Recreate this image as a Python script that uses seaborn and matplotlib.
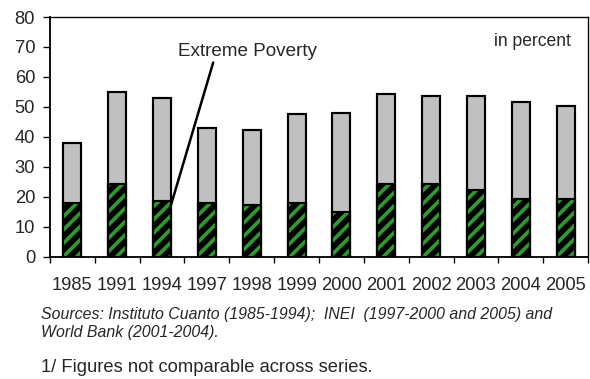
import matplotlib
matplotlib.use("Agg")
import matplotlib.pyplot as plt
import seaborn as sns
import pandas as pd

# Poverty rates in Peru (percent of population)
years = ["1985", "1991", "1994", "1997", "1998", "1999",
         "2000", "2001", "2002", "2003", "2004", "2005"]
total_poverty = [38.1, 55.0, 53.0, 42.8, 42.2, 47.5,
                 48.1, 54.2, 53.6, 53.6, 51.5, 50.2]
extreme_poverty = [17.9, 24.1, 18.7, 17.9, 17.4, 18.0,
                   14.8, 24.2, 24.1, 22.1, 19.2, 19.2]
y_ticks = [0, 10, 20, 30, 40, 50, 60, 70, 80]

df = pd.DataFrame({"year": years, "total": total_poverty, "extreme": extreme_poverty})

sns.set_style("white")
plt.rcParams["font.family"] = ["Liberation Sans", "DejaVu Sans"]
plt.rcParams["hatch.linewidth"] = 2.2

DPI = 120
fig = plt.figure(figsize=(590 / DPI, 379 / DPI), dpi=DPI)
ax = fig.add_axes([50 / 590, 1 - 256.7 / 379, 538 / 590, (256.7 - 17) / 379])

green = "#2f9a2f"
bar_w = 0.4

# total poverty (grey)
sns.barplot(data=df, x="year", y="total", ax=ax, color="#c0c0c0", saturation=1,
            width=bar_w, edgecolor="black", linewidth=1.3, zorder=2)
# extreme poverty: black with green diagonal stripes
sns.barplot(data=df, x="year", y="extreme", ax=ax, color="black", saturation=1,
            width=bar_w, edgecolor=green, linewidth=0, hatch="///", zorder=3)
# outline over the striped part
sns.barplot(data=df, x="year", y="extreme", ax=ax, fill=False, saturation=1,
            width=bar_w, edgecolor="black", linewidth=1.3, zorder=4)

n = len(years)
ax.set_xlim(-0.5, n - 0.5)
ax.set_ylim(0, 80)
ax.set_yticks(y_ticks)
ax.set_xlabel("")
ax.set_ylabel("")

# tick marks between categories, labels centred under bars
ax.set_xticks([i - 0.5 for i in range(n + 1)])
ax.set_xticklabels([])
ax.set_xticks(range(n), minor=True)
ax.set_xticklabels(years, minor=True)
ax.tick_params(axis="x", which="major", direction="out", length=3.5, width=0.8,
               color="black", bottom=True)
ax.tick_params(axis="x", which="minor", length=0, pad=12, labelsize=11)
ax.tick_params(axis="y", direction="out", length=4, width=0.8, color="black",
               left=True, pad=5, labelsize=11)

for side in ["left", "right", "top", "bottom"]:
    ax.spines[side].set_visible(True)
    ax.spines[side].set_color("black")
    ax.spines[side].set_linewidth(0.8)
ax.spines["left"].set_linewidth(1.1)
ax.spines["bottom"].set_linewidth(1.1)

ax.text(3.9, 68.5, "Extreme Poverty", ha="center", va="center", fontsize=11.3)
ax.annotate("", xy=(2.18, 16.3), xytext=(3.14, 64.8),
            arrowprops=dict(arrowstyle="-", lw=1.5, color="black",
                            shrinkA=0, shrinkB=0), zorder=5)
ax.text(0.968, 0.896, "in percent", transform=ax.transAxes, ha="right",
        va="center", fontsize=10.5)

fig.text(41 / 590, 1 - 314 / 379,
         "Sources: Instituto Cuanto (1985-1994);  INEI  (1997-2000 and 2005) and",
         ha="left", va="center", fontsize=9.5, style="italic")
fig.text(41 / 590, 1 - 332 / 379, "World Bank (2001-2004).",
         ha="left", va="center", fontsize=9.5, style="italic")
fig.text(41 / 590, 1 - 367 / 379, "1/ Figures not comparable across series.",
         ha="left", va="center", fontsize=11)

fig.savefig("out.png", dpi=DPI, facecolor="white")
